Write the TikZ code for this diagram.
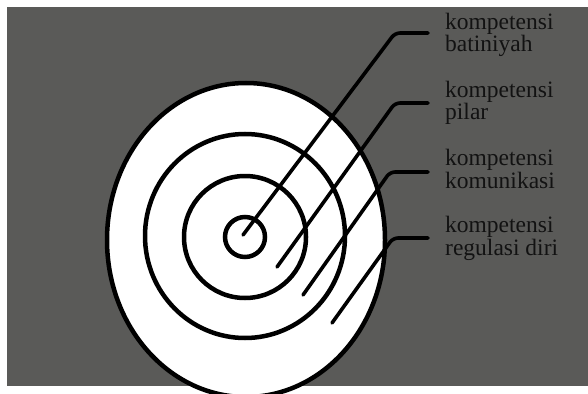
\documentclass[tikz,border=0pt]{standalone}
\usepackage{fontspec}
\setmainfont{Liberation Serif}
\definecolor{bggray}{RGB}{90,90,88}
\definecolor{ink}{RGB}{18,18,18}
\begin{document}
\begin{tikzpicture}[x=1pt,y=-1pt,
  ring/.style={draw=black,line width=4.5pt},
  leader/.style={draw=black,line width=3.6pt,rounded corners=5pt,line cap=round},
  lbl/.style={anchor=base west,inner sep=0pt,align=left,text=ink,
     font=\fontsize{23.5}{21}\selectfont}]
\useasboundingbox (0,0) rectangle (588,393);
\fill[white] (0,0) rectangle (588,393);
\fill[bggray] (7,7) rectangle (588,386);
% target
\filldraw[fill=white,ring] (246,240) ellipse [x radius=139, y radius=157];
\draw[ring] (245,236) ellipse [x radius=100, y radius=102];
\draw[ring] (245,237) circle [radius=61];
\draw[ring] (245,237) circle [radius=20];
% labels (anchored at the baseline of their last line)
\node[lbl] (l1) at (445,52) {kompetensi\\batiniyah};
\node[lbl] (l2) at (445,120) {kompetensi\\pilar};
\node[lbl] (l3) at (445,188) {kompetensi\\komunikasi};
\node[lbl] (l4) at (445,255) {kompetensi\\regulasi diri};
% leader points
\coordinate (s1) at (243,235); \coordinate (k1) at (395,33);  \coordinate (e1) at (428,33);
\coordinate (s2) at (277,267); \coordinate (k2) at (395,103); \coordinate (e2) at (428,103);
\coordinate (s3) at (303,295); \coordinate (k3) at (390,172); \coordinate (e3) at (428,172);
\coordinate (s4) at (332,323); \coordinate (k4) at (393,238); \coordinate (e4) at (428,238);
\draw[leader] (s1) -- (k1) -- (e1);
\draw[leader] (s2) -- (k2) -- (e2);
\draw[leader] (s3) -- (k3) -- (e3);
\draw[leader] (s4) -- (k4) -- (e4);
\end{tikzpicture}
\end{document}
